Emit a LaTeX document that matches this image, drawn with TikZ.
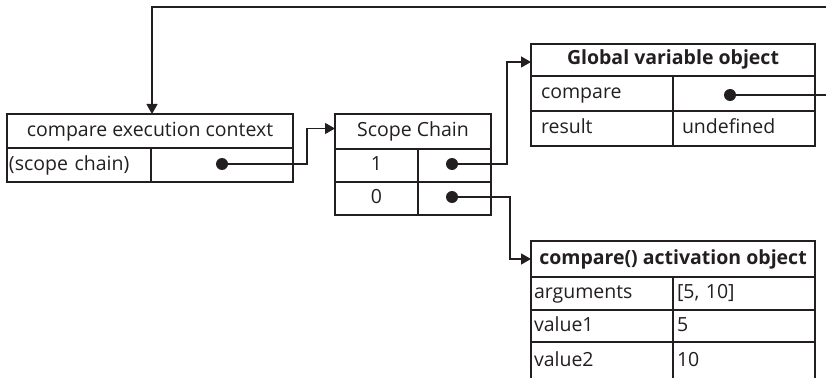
\documentclass[tikz,border=0pt]{standalone}
\usepackage{fontspec}
\setmainfont{Open Sans}
\usetikzlibrary{arrows.meta}
\definecolor{ink}{HTML}{231F20}
\newcommand\cbox[6]{% name x1 y1 x2 y2 text (centered)
  \node[cell,minimum height={(#5-#3)*1pt},minimum width={(#4-#2)*1pt}] (#1) at ({(#2+#4)/2},{(#3+#5)/2}) {#6};}
\newcommand\lbox[7]{% name x1 y1 x2 y2 pad text (left aligned)
  \pgfmathsetmacro\tw{#4-#2-2*#6}%
  \node[cell,inner xsep=#6pt,text width=\tw pt,align=left,minimum height={(#5-#3)*1pt}] (#1) at ({(#2+#4)/2},{(#3+#5)/2}) {#7};}
\begin{document}
\begin{tikzpicture}[x=1pt,y=-1pt,
  cell/.style={draw=ink,line width=1.3pt,rectangle,inner sep=0pt,outer sep=0pt,
    text=ink,font=\fontsize{19.5}{22}\selectfont,text height=14pt,text depth=4pt},
  conn/.style={draw=ink,line width=1.3pt},
  arr/.style={conn,-{Triangle[length=10pt,width=11pt]}},
  dotn/.style={circle,fill=ink,inner sep=0pt,minimum size=12pt}]
\useasboundingbox (0,0) rectangle (826,377);
% compare execution context
\cbox{ech}{7}{114}{293}{148}{compare execution context}
\lbox{ecl}{7}{148}{151}{182}{2}{(scope chain)}
\cbox{ecv}{151}{148}{293}{182}{}
% scope chain
\cbox{sch}{335}{114}{491}{149}{Scope Chain}
\cbox{s1l}{335}{149}{418}{182}{1}
\cbox{s1v}{418}{149}{491}{182}{}
\cbox{s0l}{335}{182}{418}{215}{0}
\cbox{s0v}{418}{182}{491}{215}{}
% global variable object
\cbox{gh}{531}{44}{815}{76}{\bfseries Global variable object}
\lbox{gcl}{531}{76}{673}{111}{10}{compare}
\cbox{gcv}{673}{76}{815}{111}{}
\lbox{grl}{531}{111}{673}{146}{10}{result}
\lbox{grv}{673}{111}{815}{146}{9}{undefined}
% activation object
\cbox{ah}{531}{241}{815}{277}{\bfseries compare() activation object}
\lbox{aal}{531}{277}{673}{310}{3}{arguments}
\lbox{aav}{673}{277}{815}{310}{4}{[5, 10]}
\lbox{a1l}{531}{310}{673}{342}{3}{value1}
\lbox{a1v}{673}{310}{815}{342}{4}{5}
\lbox{a2l}{531}{342}{673}{380}{3}{value2}
\lbox{a2v}{673}{342}{815}{380}{4}{10}
% dots
\node[dotn] (d1) at (222,164) {};
\node[dotn] (d2) at (452,164) {};
\node[dotn] (d3) at (452,197) {};
\node[dotn] (d4) at (730,95) {};
\coordinate (topR) at (830,7);
\coordinate (gR) at (830,95);
% connectors
\draw[arr] (topR) -| ([xshift=2pt]ech.north);
\draw[arr] (d1.center) -- ++(85,0) |- ([yshift=3pt]sch.west);
\draw[arr] (d2.center) -- ++(55,0) |- ([yshift=-2pt]gh.west);
\draw[arr] (d3.center) -- ++(58,0) |- (ah.west);
\draw[conn] (d4.center) -- (gR);
\end{tikzpicture}
\end{document}
